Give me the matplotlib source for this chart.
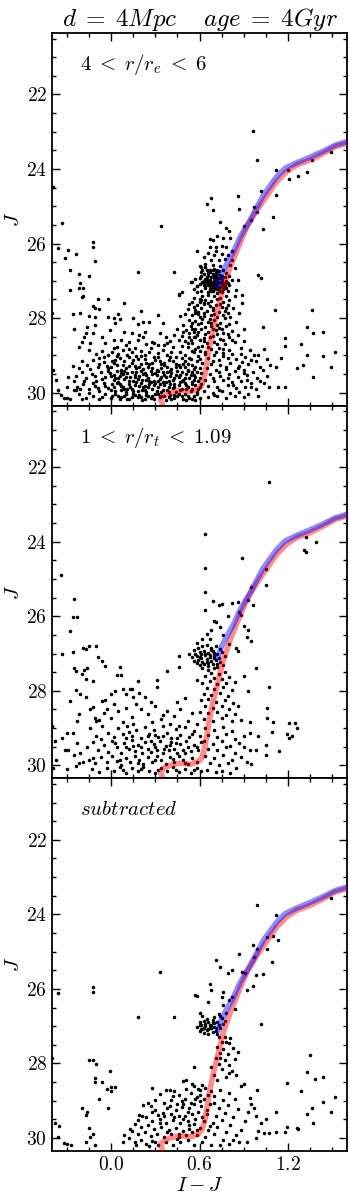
import numpy as np
import matplotlib
matplotlib.use("Agg")
import matplotlib.pyplot as plt
from matplotlib.ticker import MultipleLocator

plt.rcParams['mathtext.fontset'] = 'cm'
plt.rcParams['font.family'] = 'serif'
plt.rcParams['font.serif'] = ['cmr10', 'DejaVu Serif']
plt.rcParams['axes.formatter.use_mathtext'] = True

# isochrone tracks (I-J, J)
rgb_x = [0.38, 0.355, 0.335, 0.36, 0.40, 0.47, 0.54, 0.59, 0.615, 0.635, 0.65, 0.668, 0.694, 0.728, 0.761,
         0.807, 0.863, 0.92, 0.988, 1.067, 1.123, 1.19, 1.259, 1.349, 1.44, 1.519, 1.61]
rgb_y = [30.6, 30.38, 30.18, 30.07, 30.0, 29.94, 29.97, 29.9, 29.8, 29.55, 29.2, 28.75, 28.26, 27.72, 27.18,
         26.64, 26.1, 25.56, 25.11, 24.66, 24.34, 24.07, 23.89, 23.76, 23.58, 23.40, 23.30]
agb_x = [0.725, 0.745, 0.784, 0.829, 0.875, 0.942, 1.033, 1.123, 1.18, 1.26, 1.35, 1.44, 1.52, 1.61]
agb_y = [27.12, 26.85, 26.55, 26.23, 25.83, 25.38, 24.70, 24.21, 23.98, 23.83, 23.68, 23.52, 23.36, 23.25]

panel_labels = [r'$4\;<\;r/r_e\;<\;6$', r'$1\;<\;r/r_t\;<\;1.09$', r'$subtracted$']

# top panel: 4 < r/re < 6
top_sparse = [(0.96,22.99),(0.99,23.75),(1.12,24.02),(1.2,24.03),(1.27,24.18),(1.33,24.09),(1.36,23.77),(1.49,23.54),
    (1.21,24.26),(1.12,24.69),(1.02,24.6),(0.65,24.94),(0.68,24.78),(0.69,25.11),(0.86,24.72),(0.87,25.06),(0.97,25.02),
    (0.99,25.14),(0.95,25.36),(1.1,25.28),(0.34,25.54),(0.74,25.41),(0.78,25.58),(0.8,25.67),(0.9,25.52),(1.03,25.61),
    (-0.39,24.47),(-0.33,25.45),(-0.12,25.95),(-0.36,26.11),(-0.12,26.08),(-0.29,26.17),(-0.31,26.4),(-0.24,26.27),
    (-0.11,26.46),(0.58,26.19),(-0.28,26.72),(-0.22,26.81),(-0.15,26.87),(0.18,26.75),(0.43,26.75),(-0.28,27.24),
    (-0.21,27.05),(-0.22,27.2),(-0.19,27.2),(-0.19,27.41),(-0.2,27.44),(-0.09,27.49),(-0.02,27.49),(0.09,27.6),
    (-0.12,27.67),(-0.11,27.74),(-0.08,27.76),(0.46,27.38),(0.48,27.31),(-0.4,27.85),
    (1.36,27.78),(1.33,28.23),(1.37,28.41),(1.44,28.36),(1.18,28.54),(1.18,28.74),(1.29,28.69),(1.33,28.99),(1.44,29.03),
    (1.52,28.9),(1.26,29.35),(1.3,29.26),(1.37,29.59),(1.49,29.3),(1.12,29.3),
    (-0.39,29.4),(-0.37,29.66),(-0.36,29.93),(-0.29,29.57),(-0.25,29.69),(-0.24,29.93),(-0.23,29.84)]
top_rgb = [(0.72,25.81),(0.69,25.9),(0.67,25.88),(0.76,25.85),(0.81,25.85),(0.71,26.08),(0.75,26.06),(0.78,26.1),
    (0.82,26.21),(0.67,26.1),(0.66,26.26),(0.7,26.3),(0.75,26.28),(0.79,26.3),(0.73,26.44),(0.77,26.42),(0.82,26.44),
    (0.6,26.61),(0.64,26.54),(0.69,26.57),(0.74,26.61),(0.81,26.57),(0.84,26.66),(1.0,26.84),(1.02,26.93),(0.54,27.02),
    (0.46,27.36),(0.68,26.45),(0.63,26.35),(0.71,26.2),(0.61,26.64),(0.6,26.93),(0.61,26.76),
    (0.62,26.72),(0.65,26.7),(0.67,26.76),(0.7,26.68),(0.73,26.74),(0.76,26.7),(0.78,26.78),(0.63,26.82),(0.66,26.86),
    (0.69,26.83),(0.71,26.88),(0.74,26.84),(0.77,26.9),(0.64,26.94),(0.67,26.97),(0.7,26.93),(0.72,26.98),(0.75,26.95),
    (0.78,27.0),(0.62,27.02),(0.65,27.05),(0.68,27.03),(0.71,27.06),(0.73,27.02),(0.76,27.08),(0.79,27.05),(0.63,27.12),
    (0.66,27.1),(0.69,27.14),(0.72,27.11),(0.74,27.16),(0.77,27.13),(0.64,27.2),(0.67,27.22),(0.7,27.19),(0.73,27.24),
    (0.76,27.21),(0.79,27.26),(0.66,27.3),(0.69,27.28),(0.72,27.32),(0.75,27.3),(0.6,27.08),(0.58,27.15),(0.61,27.27),
    (0.68,26.9),(0.7,27.0),(0.66,27.0),(0.72,26.92),(0.74,27.07),(0.67,27.08),(0.7,27.1),(0.71,27.15),(0.68,27.18),
    (0.73,27.2),(0.65,26.98),(0.63,27.07),(0.69,27.05),(0.75,27.0),(0.8,27.12),(0.82,26.98),(0.57,26.95),(0.56,27.22),
    (0.64,26.64),(0.71,26.77),(0.77,27.2),(0.66,26.8),(0.69,26.72),(0.72,26.82),(0.75,26.88),(0.64,27.15),(0.68,27.26),
    (0.74,27.27),(0.78,27.18),(0.61,26.88),(0.8,26.86),
    (0.67,26.72),(0.72,26.72),(0.65,26.9),(0.7,26.84),(0.74,26.93),(0.63,27.0),(0.77,27.05),(0.67,27.14),(0.71,27.22),
    (0.75,27.14),
    (0.86,26.97),(0.85,27.24),(0.84,27.42),(0.89,27.38),(0.89,27.6),(1.11,27.78),(1.03,28.25),
    (0.62,27.4),(0.66,27.38),(0.7,27.42),(0.74,27.45),(0.78,27.4),(0.6,27.5),(0.64,27.52),(0.68,27.55),(0.72,27.5),
    (0.76,27.56),(0.8,27.52),(0.55,27.58),(0.58,27.65),(0.63,27.62),(0.67,27.67),(0.71,27.64),(0.75,27.7),(0.79,27.66),
    (0.83,27.72),(0.52,27.75),(0.57,27.78),(0.61,27.74),(0.65,27.8),(0.69,27.77),(0.73,27.83),(0.77,27.8),(0.5,27.9),
    (0.55,27.92),(0.59,27.88),(0.63,27.95),(0.68,27.91),(0.72,27.97),(0.76,27.93),(0.81,27.98),(0.53,28.04),(0.57,28.08),
    (0.62,28.02),(0.66,28.1),(0.7,28.06),(0.74,28.12),(0.49,28.18),(0.54,28.22),(0.59,28.16),(0.64,28.24),(0.68,28.2),
    (0.73,28.27),(0.78,28.22),(0.51,28.32),(0.56,28.36),(0.61,28.3),(0.66,28.38),(0.71,28.33),(0.76,28.4),(0.82,28.35),
    (0.48,28.47),(0.53,28.5),(0.58,28.45),(0.63,28.53),(0.69,28.48),(0.74,28.55),(0.8,28.5),(0.86,28.46),(0.5,28.62),
    (0.55,28.66),(0.6,28.6),(0.65,28.68),(0.7,28.63),(0.77,28.7),(0.84,28.65),(0.9,28.62),(0.52,28.78),(0.57,28.82),
    (0.62,28.76),(0.68,28.84),(0.73,28.8),(0.8,28.86),(0.88,28.8),(0.94,28.85),(0.56,27.45),(0.53,27.62),(0.47,27.95),
    (0.45,28.3),(0.85,28.1),(0.87,27.85),(0.9,28.3),
    (0.6,27.58),(0.66,27.6),(0.74,27.62),(0.57,27.85),(0.63,27.86),(0.7,27.88),(0.79,27.86),(0.55,28.12),(0.61,28.14),
    (0.68,28.14),(0.72,28.18),(0.8,28.15),(0.53,28.4),(0.59,28.38),(0.64,28.44),(0.72,28.42),(0.79,28.44),(0.54,28.58),
    (0.63,28.62),(0.72,28.7),(0.82,28.58),(0.6,28.88),(0.66,28.78),(0.76,28.84),
    (0.63,27.6),(0.69,27.72),(0.78,27.72),(0.6,27.98),(0.67,28.02),(0.77,28.0),(0.57,28.28),(0.69,28.3),(0.75,28.28),
    (0.56,28.5),(0.67,28.5),(0.76,28.58),(0.64,28.9),(0.71,28.9)]
top_faint = [(0.95,29.12),(1.04,28.83),(1.15,29.08),(1.13,29.84),(1.18,29.84),(1.07,29.84),(1.04,29.75),
    (0.64,28.95),(0.7,28.98),(0.76,28.93),(0.82,28.97),(0.88,28.95),(1.0,28.98),(0.66,29.08),(0.73,29.12),(0.79,29.06),
    (0.85,29.1),(0.91,29.05),(0.98,29.15),(1.06,29.1),(0.68,29.22),(0.74,29.26),(0.81,29.2),(0.87,29.28),(0.93,29.22),
    (1.01,29.3),(1.08,29.25),(0.65,29.35),(0.71,29.4),(0.78,29.36),(0.84,29.42),(0.9,29.38),(0.96,29.45),(1.03,29.4),
    (0.67,29.5),(0.74,29.55),(0.8,29.5),(0.86,29.57),(0.92,29.52),(0.99,29.6),(1.06,29.55),(0.64,29.66),(0.7,29.7),
    (0.76,29.65),(0.82,29.72),(0.88,29.68),(0.95,29.75),(1.01,29.7),(0.66,29.82),(0.72,29.86),(0.79,29.8),(0.85,29.88),
    (0.91,29.84),(0.98,29.9),(0.63,29.95),(0.69,30.0),(0.75,29.96),(0.81,30.02),(0.87,29.98),(0.93,30.05),(0.66,30.12),
    (0.72,30.1),(0.78,30.15),(0.84,30.1),(0.76,29.02),(0.86,29.33),(0.97,29.0),(0.73,29.44),(0.92,29.65),
    (0.69,29.14),(0.78,29.3),(0.89,29.18),(0.69,29.62),(0.79,29.6),(0.9,29.46),(0.73,29.92),(0.83,29.8),(0.95,29.85),
    (0.7,30.06),(0.9,30.12),(1.0,30.08),
    (-0.26,27.88),(-0.21,27.85),(-0.15,27.94),(-0.11,27.96),(-0.02,27.96),(0.02,28.0),(0.03,28.14),(0.05,27.89),
    (0.06,28.03),(0.15,27.99),(0.18,28.16),(0.2,27.8),(0.22,28.1),(0.26,28.1),(0.32,27.92),(0.35,28.14),(-0.25,28.29),
    (-0.17,28.41),(-0.16,28.23),(-0.12,28.41),(-0.11,28.19),(-0.18,28.5),(-0.2,28.63),(-0.22,28.77),(-0.14,28.68),
    (-0.06,28.5),(-0.04,28.66),(-0.01,28.32),(0.02,28.59),(0.04,28.77),(0.09,28.36),(0.12,28.63),(0.14,28.41),
    (0.18,28.59),(0.19,28.45),(0.23,28.36),(0.28,28.63),(0.29,28.68),(0.33,28.41),(0.36,28.72),(0.38,28.66),(0.43,28.45),
    (0.46,28.59),(0.49,28.36),(0.52,28.66),(0.55,28.3),(0.57,28.5),(0.59,28.77),(0.56,27.69),(0.59,27.83),(0.61,27.51),
    (0.58,27.15),(0.6,26.93),(0.55,27.02),(0.58,27.29)]
top_ms = [(-0.26,29.28),(-0.22,29.35),(-0.15,28.85),(-0.1,28.95),(-0.06,28.88),(-0.02,29.0),(0.01,28.9),(0.05,28.97),
    (0.08,28.86),(0.11,28.99),(0.14,28.92),(0.17,29.03),(0.2,28.88),(0.23,28.98),(0.26,28.9),(0.29,29.04),(0.32,28.94),
    (0.35,28.86),(0.38,29.0),(0.41,28.92),(0.44,29.05),(0.47,28.9),(0.5,28.98),(0.53,29.06),(0.56,28.92),(0.59,29.02),
    (0.12,28.82),(0.27,28.8),(0.42,28.78),(-0.08,29.08),
    (-0.2,29.15),(-0.16,29.25),(-0.12,29.12),(-0.09,29.3),(-0.05,29.18),(-0.02,29.35),(0.01,29.14),(0.04,29.26),
    (0.07,29.38),(0.09,29.16),(0.12,29.28),(0.15,29.12),(0.17,29.35),(0.2,29.22),(0.23,29.1),(0.25,29.32),(0.28,29.2),
    (0.31,29.38),(0.33,29.14),(0.36,29.27),(0.39,29.12),(0.41,29.36),(0.44,29.22),(0.47,29.3),(0.5,29.15),(0.52,29.38),
    (0.55,29.25),(0.58,29.14),(0.6,29.33),(0.62,29.2),(0.03,29.12),(0.19,29.3),(0.34,29.35),(0.49,29.24),
    (-0.24,29.55),(-0.2,29.45),(-0.17,29.62),(-0.13,29.5),(-0.1,29.68),(-0.07,29.44),(-0.04,29.58),(-0.01,29.48),
    (0.02,29.66),(0.04,29.42),(0.06,29.55),(0.09,29.64),(0.11,29.46),(0.13,29.58),(0.15,29.69),(0.17,29.44),(0.19,29.55),
    (0.21,29.66),(0.23,29.48),(0.25,29.6),(0.27,29.42),(0.29,29.7),(0.31,29.52),(0.33,29.63),(0.35,29.45),(0.37,29.57),
    (0.39,29.68),(0.41,29.47),(0.43,29.6),(0.45,29.43),(0.47,29.54),(0.49,29.66),(0.51,29.5),(0.53,29.62),(0.55,29.45),
    (0.57,29.57),(0.59,29.69),(0.61,29.48),(0.08,29.5),(0.16,29.52),(0.24,29.54),(0.32,29.41),(0.4,29.56),(0.48,29.44),
    (0.56,29.65),(0.0,29.56),
    (-0.3,29.84),(-0.25,29.93),(-0.19,29.78),(-0.15,29.9),(-0.11,29.82),(-0.08,29.96),(-0.05,29.74),(-0.02,29.88),
    (0.01,29.78),(0.03,29.95),(0.05,29.72),(0.08,29.85),(0.1,29.98),(0.12,29.76),(0.14,29.9),(0.16,29.8),(0.18,29.95),
    (0.2,29.73),(0.22,29.86),(0.24,29.98),(0.26,29.78),(0.28,29.9),(0.3,29.74),(0.32,29.86),(0.34,29.97),(0.36,29.8),
    (0.38,29.92),(0.4,29.76),(0.42,29.88),(0.44,29.98),(0.46,29.79),(0.48,29.9),(0.5,29.74),(0.52,29.85),(0.54,29.96),
    (0.57,29.8),(0.59,29.9),(0.61,29.77),(0.07,29.92),(0.23,29.82),(0.37,29.72),(0.55,29.72),
    (-0.34,30.07),(-0.32,30.14),(-0.3,30.15),(-0.28,30.17),(-0.22,30.05),(-0.17,30.15),(-0.12,30.08),(-0.08,30.18),
    (-0.04,30.05),(0.0,30.14),(0.03,30.04),(0.06,30.18),(0.09,30.08),(0.12,30.16),(0.15,30.03),(0.18,30.12),(0.21,30.2),
    (0.24,30.06),(0.27,30.15),(0.3,30.04),(0.33,30.12),(0.37,30.2),(0.4,30.06),(0.43,30.15),(0.46,30.04),(0.49,30.18),
    (0.52,30.08),(0.55,30.16),(0.58,30.05),(0.6,30.14),
    (0.02,29.2),(0.06,29.08),(0.1,29.33),(0.14,29.2),(0.18,29.1),(0.22,29.36),(0.26,29.24),(0.3,29.12),(0.34,29.22),
    (0.38,29.32),(0.42,29.16),(0.46,29.26),(0.5,29.32),(0.54,29.1),(0.57,29.3),
    (0.03,29.6),(0.07,29.47),(0.1,29.58),(0.14,29.44),(0.18,29.64),(0.22,29.5),(0.26,29.68),(0.3,29.46),(0.34,29.58),
    (0.38,29.44),(0.42,29.66),(0.46,29.58),(0.5,29.62),(0.54,29.52),(0.58,29.44),
    (0.02,29.84),(0.06,29.78),(0.09,29.9),(0.13,29.84),(0.17,29.72),(0.21,29.93),(0.25,29.86),(0.29,29.8),(0.33,29.78),
    (0.35,29.92),(0.39,29.84),(0.43,29.76),(0.47,29.94),(0.51,29.8),(0.55,29.9),(0.6,29.84),
    (0.05,30.1),(0.1,30.04),(0.14,30.12),(0.19,30.06),(0.23,30.18),(0.28,30.08),(0.32,30.03),(0.36,30.1),(0.41,30.18),
    (0.45,30.1),(0.5,30.03),(0.53,30.14),(0.57,30.2),
    (-0.14,29.36),(-0.11,29.56),(-0.08,29.22),(-0.06,29.64),(-0.03,29.28),(-0.12,29.75),(-0.09,29.88),(-0.18,29.7),
    (-0.21,29.9),(-0.06,30.12),(-0.15,30.02),(-0.2,30.18),
    (0.02,28.8),(0.1,28.72),(0.16,28.8),(0.24,28.7),(0.32,28.72),(0.4,28.62),(0.48,28.76),(0.55,28.88),(0.07,28.6),
    (0.22,28.52),(0.37,28.5),
    (-0.05,29.05),(0.0,29.3),(0.04,29.02),(0.08,29.25),(0.12,29.05),(0.16,29.28),(0.2,29.02),(0.24,29.2),(0.28,29.34),
    (0.32,29.05),(0.36,29.2),(0.4,29.04),(0.44,29.32),(0.48,29.08),(0.52,29.22),(0.56,29.36),(0.6,29.1),
    (-0.02,29.43),(0.02,29.52),(0.05,29.62),(0.09,29.43),(0.12,29.68),(0.16,29.58),(0.2,29.42),(0.24,29.66),(0.28,29.5),
    (0.32,29.68),(0.36,29.52),(0.4,29.42),(0.44,29.52),(0.48,29.68),(0.52,29.42),(0.56,29.52),(0.6,29.6),
    (-0.04,29.82),(0.0,29.92),(0.04,29.74),(0.07,29.82),(0.11,29.9),(0.15,29.96),(0.19,29.82),(0.23,29.92),(0.27,29.72),
    (0.31,29.95),(0.35,29.72),(0.39,29.98),(0.43,29.84),(0.47,29.72),(0.51,29.9),(0.55,29.78),(0.58,29.98),
    (0.01,30.08),(0.07,30.12),(0.11,30.18),(0.16,30.06),(0.2,30.12),(0.25,30.1),(0.29,30.18),(0.34,30.08),(0.39,30.12),
    (0.43,30.06),(0.48,30.1),(0.51,30.2),(0.56,30.08)]

# middle panel: 1 < r/rt < 1.09
mid_sparse = [(-0.34,24.89),(-0.25,25.53),(-0.26,26.03),(-0.23,26.03),(-0.28,26.4),(-0.33,27.02),(-0.26,26.97),
    (-0.19,26.84),(-0.17,26.88),(-0.15,26.81),(-0.1,26.79),(-0.09,27.1),(-0.06,27.19),(-0.04,27.33),(-0.24,27.46),
    (-0.25,27.4),(-0.2,27.55),(-0.18,27.45),(-0.16,27.39),(-0.17,27.69),(-0.12,27.73),(0.06,27.37),(0.04,27.57),
    (0.07,27.57),(0.18,27.75),(0.14,27.96),(0.31,27.72),(0.31,27.9),(0.38,27.46),(0.46,27.37),(0.46,27.06),(-0.28,28.27),
    (-0.24,27.99),(-0.21,28.09),(-0.17,28.18),(-0.14,28.5),(-0.12,28.43),(-0.23,28.81),(-0.22,28.63),(-0.11,28.72),
    (-0.1,28.81),(-0.08,28.79),(-0.06,28.27),(-0.04,28.25),(-0.03,28.5),(0.02,28.36),(0.0,28.09),(0.03,28.0),(0.08,27.96),
    (0.1,28.09),(0.13,27.96),(0.15,28.18),(0.19,28.05),(0.23,28.18),(-0.4,28.95),(-0.38,29.35),(-0.3,29.13),(-0.33,29.28),
    (-0.31,29.58),(-0.29,29.58),(-0.37,29.85),(-0.39,30.07),(-0.26,29.13),(-0.23,29.4),(-0.21,29.67),(-0.25,29.71),
    (-0.19,29.9),
    (1.07,22.41),(0.64,23.78),(1.32,23.87),(1.31,24.23),(1.32,24.27),(1.39,24.0),(0.89,24.45),(0.64,24.7),(1.05,24.72),
    (1.05,25.15),(0.95,25.22),(0.64,25.35),(0.69,25.58),(0.64,25.83),(0.73,25.71),(0.75,25.67),(0.82,25.65),(0.86,25.62),
    (0.93,25.56),(0.96,25.71),(0.71,26.16),(0.7,26.13),(0.79,26.0),(0.87,25.89),(0.88,25.98),(0.9,26.25),(0.93,26.37),
    (0.92,26.57),(0.95,26.67),(0.65,26.48),(0.67,26.61),(0.68,26.37),(0.98,27.39),(1.07,27.89),(0.85,26.84),(0.86,26.93),
    (0.8,26.75),(0.74,26.3),(0.76,26.5),(0.62,26.6),(0.58,26.73)]
mid_rgb = [(0.56,26.9),(0.59,26.85),(0.62,26.8),(0.65,26.78),(0.68,26.84),(0.71,26.8),(0.74,26.88),(0.57,27.0),
    (0.6,26.96),(0.63,26.93),(0.66,26.98),(0.69,26.94),(0.72,27.0),(0.75,26.96),(0.55,27.1),(0.58,27.06),(0.61,27.12),
    (0.64,27.05),(0.67,27.1),(0.7,27.06),(0.73,27.12),(0.77,27.08),(0.56,27.2),(0.59,27.17),(0.62,27.22),(0.65,27.16),
    (0.68,27.2),(0.71,27.18),(0.74,27.24),(0.6,27.3),(0.63,27.27),(0.66,27.33),(0.69,27.28),(0.72,27.35),(0.76,27.3),
    (0.62,27.4),(0.66,27.44),(0.7,27.4),(0.53,27.02),(0.64,27.0),(0.67,27.03),(0.7,27.13),(0.61,27.02),(0.68,26.9),
    (0.66,27.25),(0.6,27.1),(0.7,26.98),(0.65,27.22),(0.72,27.27),(0.58,27.25),
    (0.68,27.52),(0.73,27.55),(0.77,27.5),(0.64,27.6),(0.7,27.65),(0.75,27.68),(0.8,27.62),(0.62,27.78),(0.67,27.75),
    (0.72,27.82),(0.78,27.8),(0.84,27.76),(0.65,27.92),(0.7,27.96),(0.76,27.9),(0.82,27.98),(0.63,28.08),(0.68,28.12),
    (0.74,28.06),(0.79,28.15),(0.61,28.25),(0.66,28.22),(0.71,28.3),(0.77,28.26),(0.83,28.32),(0.64,28.4),(0.69,28.45),
    (0.75,28.42),(0.8,28.5),(0.6,28.56),(0.66,28.6),(0.72,28.58),(0.78,28.65),(0.84,28.62),(0.63,28.75),(0.69,28.8),
    (0.75,28.74),(0.82,28.82),(0.88,28.78),(0.58,28.9),(0.9,27.6),(0.93,28.0),(0.58,27.7),(0.86,28.4)]
mid_ms = [(1.06,28.45),(1.06,28.72),(1.1,28.83),(0.94,28.83),(0.94,29.13),(1.0,29.22),(0.9,29.22),(0.9,29.51),
    (0.94,29.58),(0.98,29.6),(1.05,29.46),(1.05,29.71),(1.09,29.11),(1.14,29.62),(1.21,28.86),(1.25,28.86),(1.26,28.99),
    (1.19,29.15),(1.21,29.26),(1.23,29.22),(0.95,29.96),(0.85,30.07),(0.81,30.2),(0.75,30.16),
    (0.64,29.0),(0.7,29.05),(0.76,28.98),(0.82,29.08),(0.66,29.18),(0.72,29.24),(0.78,29.16),(0.84,29.3),(0.63,29.36),
    (0.69,29.42),(0.75,29.35),(0.81,29.48),(0.87,29.4),(0.66,29.56),(0.72,29.6),(0.78,29.52),(0.84,29.66),(0.64,29.74),
    (0.7,29.8),(0.76,29.72),(0.82,29.86),(0.88,29.78),(0.67,29.94),(0.73,30.0),(0.79,29.95),(0.65,30.12),(0.71,30.18),
    (0.92,29.9),
    (0.05,28.55),(0.1,28.45),(0.14,28.7),(0.2,28.5),(0.25,28.62),(0.3,28.42),(0.34,28.75),(0.38,28.55),(0.43,28.68),
    (0.47,28.5),(0.52,28.8),(0.55,28.6),(0.0,28.72),(-0.05,28.6),(0.08,28.85),(0.28,28.85),(0.4,28.88),(0.17,28.35),
    (0.27,28.3),(0.45,28.3),(0.5,28.2),
    (-0.14,29.0),(-0.1,29.2),(-0.06,28.95),(-0.02,29.12),(0.02,29.25),(0.05,29.0),(0.08,29.15),(0.11,28.95),(0.14,29.22),
    (0.17,29.05),(0.2,29.28),(0.23,28.98),(0.26,29.15),(0.29,29.05),(0.32,29.25),(0.35,28.95),(0.38,29.12),(0.41,29.28),
    (0.44,29.02),(0.47,29.18),(0.5,28.98),(0.53,29.25),(0.56,29.08),(0.6,29.2),(0.12,29.1),(0.3,29.18),
    (-0.16,29.5),(-0.12,29.38),(-0.09,29.6),(-0.05,29.45),(-0.02,29.65),(0.01,29.35),(0.04,29.52),(0.07,29.68),
    (0.09,29.4),(0.12,29.56),(0.14,29.32),(0.16,29.62),(0.18,29.45),(0.21,29.68),(0.23,29.38),(0.25,29.55),(0.27,29.65),
    (0.29,29.42),(0.31,29.58),(0.33,29.35),(0.35,29.68),(0.37,29.48),(0.39,29.6),(0.41,29.38),(0.43,29.55),(0.45,29.66),
    (0.47,29.44),(0.49,29.58),(0.51,29.34),(0.54,29.62),(0.56,29.46),(0.59,29.58),(0.61,29.38),(0.1,29.5),(0.2,29.52),
    (0.3,29.5),(0.4,29.45),(0.52,29.5),
    (-0.15,29.85),(-0.11,29.95),(-0.07,29.78),(-0.03,29.9),(0.01,29.75),(0.04,29.88),(0.07,29.98),(0.1,29.8),(0.13,29.92),
    (0.16,29.74),(0.19,29.86),(0.22,29.97),(0.25,29.78),(0.28,29.9),(0.31,29.75),(0.34,29.85),(0.37,29.96),(0.4,29.78),
    (0.43,29.9),(0.46,29.74),(0.49,29.85),(0.52,29.96),(0.55,29.8),(0.58,29.9),
    (-0.13,30.1),(-0.08,30.18),(-0.03,30.06),(0.02,30.15),(0.06,30.05),(0.1,30.2),(0.14,30.08),(0.18,30.16),(0.22,30.04),
    (0.26,30.14),(0.3,30.2),(0.34,30.06),(0.38,30.15),(0.42,30.05),(0.46,30.18),(0.5,30.1),(0.54,30.2),(0.58,30.06),
    (0.61,30.16),(-0.3,30.1),(-0.22,29.95),(-0.24,30.02),
    (0.03,29.4),(0.15,29.48),(0.27,29.35),(0.36,29.55),(0.44,29.4),(0.5,29.68),(0.58,29.5),(0.06,29.85),(0.18,29.95),
    (0.3,29.85),(0.42,29.82),(0.5,29.95),(0.08,30.12),(0.2,30.1),(0.32,30.12),(0.44,30.12),(0.56,30.12),(0.1,29.28),
    (0.25,29.22),(0.35,29.2),(0.45,29.28),(0.55,29.15),(-0.07,29.3),(-0.12,29.8),(0.15,28.9),(0.35,28.65),(0.46,28.95)]

# bottom panel: subtracted
sub_sparse = [(0.33,25.54),(-0.36,26.1),(-0.12,25.94),(-0.12,26.08),(0.58,26.18),(0.18,26.75),(0.43,26.75),(0.6,26.64),
    (0.6,26.96),(0.61,27.07),(-0.4,27.85),(-0.15,27.92),(-0.12,27.92),(-0.1,28.01),(-0.11,28.39),(-0.11,28.51),
    (-0.06,28.51),(-0.01,28.19),(0.0,28.63),(0.03,28.63),(-0.03,28.68),(0.0,28.75),(-0.08,28.95),(-0.02,29.2),(-0.2,29.2),
    (-0.16,29.29),(-0.17,29.39),(-0.38,29.6),(-0.35,29.69),(-0.15,29.72),(-0.12,29.89),(-0.14,29.96),(-0.17,30.12),
    (-0.11,30.18),(-0.36,29.98),(-0.32,30.14),(-0.3,30.16),(-0.27,30.18),(0.28,28.66),(0.56,28.1),(0.09,29.91),(0.08,30.12),
    (0.99,23.75),(1.12,24.02),(1.49,23.55),(1.06,24.61),(1.1,24.58),(1.13,24.7),(1.06,24.92),(0.96,24.83),(0.99,24.94),
    (0.97,25.14),(0.87,25.06),(1.09,25.27),(0.71,25.23),(0.74,25.41),(0.82,25.48),(0.79,25.58),(0.89,25.54),(0.91,25.58),
    (0.98,25.63),(1.03,25.61),(0.96,25.91),(0.92,26.03),(0.67,25.88),(0.68,26.03),(0.57,26.17),(0.76,26.08),(0.66,26.35),
    (0.75,26.22),(0.82,26.22),(0.84,26.55),(1.02,26.94),(0.76,26.42),(0.8,26.3),(0.78,26.65),
    (1.35,27.78),(1.33,28.24),(1.38,28.42),(1.44,28.37),(1.19,28.52),(1.29,28.73),(1.44,29.04),(1.52,28.9),(1.36,29.2),
    (1.33,29.36),(1.49,29.31),(1.37,29.6),(1.19,29.71),(1.18,29.85),(1.26,29.73),(1.27,29.77),(1.12,29.85),(1.07,29.87),
    (1.04,29.87),(0.99,28.7),(1.12,29.29)]
sub_rgb = [(0.6,26.88),(0.63,26.85),(0.66,26.9),(0.69,26.84),(0.72,26.9),(0.75,26.78),(0.61,26.98),(0.64,27.0),
    (0.67,26.96),(0.7,27.02),(0.73,26.97),(0.62,27.08),(0.65,27.1),(0.68,27.06),(0.71,27.12),(0.74,27.05),(0.63,27.18),
    (0.66,27.2),(0.69,27.16),(0.72,27.22),(0.6,27.12),(0.65,26.8),(0.7,26.74),(0.77,26.85),(0.76,26.95),(0.67,27.04),
    (0.7,26.92),(0.64,26.93),(0.58,27.02),(0.62,26.72),(0.73,26.66),(0.68,26.98),(0.71,27.06),(0.66,27.08),(0.69,26.9),
    (0.63,27.04),(0.74,26.72),
    (0.73,27.3),(0.77,27.28),(0.81,27.32),(0.75,27.42),(0.8,27.45),(0.72,27.55),(0.76,27.6),(0.83,27.58),(0.74,27.72),
    (0.79,27.75),(0.71,27.85),(0.77,27.9),(0.84,27.88),(0.73,28.02),(0.8,28.05),(0.75,28.15),(0.82,28.2),(0.7,28.3),
    (0.78,28.35),(0.85,28.3),(0.72,28.45),(0.68,28.1),(0.86,27.7),(0.78,27.42),(0.74,27.86),(0.8,28.25)]
sub_ms = [(0.88,28.61),(0.9,28.56),(0.94,28.93),(0.95,29.1),(0.97,29.2),(0.93,29.3),(0.91,29.55),(0.88,29.78),
    (0.85,29.92),(0.83,30.05),(0.92,30.1),(0.98,29.4),(1.02,29.6),(1.0,29.8),(1.05,29.5),(0.98,30.0),
    (0.56,28.6),(0.6,28.7),(0.64,28.65),(0.68,28.75),(0.74,28.7),(0.8,28.8),(0.58,28.9),(0.63,28.95),(0.7,28.88),
    (0.76,28.98),(0.84,28.95),(0.56,29.1),(0.61,29.15),(0.67,29.08),(0.73,29.2),(0.79,29.12),(0.86,29.22),(0.59,29.3),
    (0.65,29.35),(0.71,29.4),(0.77,29.32),(0.83,29.45),(0.57,29.5),(0.63,29.55),(0.69,29.6),(0.75,29.52),(0.81,29.65),
    (0.6,29.72),(0.66,29.78),(0.72,29.7),(0.78,29.85),(0.58,29.92),(0.64,29.98),(0.7,29.9),(0.76,30.05),(0.62,30.12),
    (0.68,30.18),(0.74,30.2),(0.8,30.15),(0.87,30.12),
    (0.33,28.82),(0.37,28.7),(0.4,28.72),(0.43,28.75),(0.42,28.88),(0.46,28.85),(0.49,28.48),(0.51,28.45),(0.51,28.68),
    (0.55,28.55),(0.54,28.78),(0.59,28.68),(0.6,28.85),(0.22,29.11),(0.19,29.38),(0.21,29.42),(0.18,29.51),(0.28,29.29),
    (0.3,29.25),(0.32,29.38),(0.35,29.33),(0.38,29.2),
    (0.25,29.05),(0.3,28.98),(0.36,29.05),(0.41,28.98),(0.45,29.08),(0.5,28.95),(0.54,29.05),(0.27,29.15),(0.4,29.15),
    (0.44,29.25),(0.48,29.18),(0.52,29.3),(0.41,29.35),(0.46,29.42),(0.5,29.4),(0.55,29.35),(0.24,29.45),(0.28,29.55),
    (0.33,29.5),(0.37,29.6),(0.42,29.52),(0.47,29.6),(0.52,29.55),(0.56,29.62),(0.16,29.62),(0.2,29.7),(0.25,29.65),
    (0.29,29.75),(0.34,29.7),(0.39,29.78),(0.44,29.72),(0.49,29.8),(0.53,29.75),(0.14,29.82),(0.18,29.9),(0.23,29.85),
    (0.27,29.95),(0.31,29.88),(0.36,29.96),(0.41,29.9),(0.46,29.98),(0.51,29.92),(0.55,29.85),(0.12,30.0),(0.16,30.1),
    (0.2,30.05),(0.24,30.15),(0.28,30.08),(0.32,30.18),(0.37,30.1),(0.42,30.2),(0.47,30.12),(0.52,30.05),(0.56,30.18),
    (0.13,29.75),(0.17,30.18),(0.3,30.12),(0.45,30.02),(0.26,30.22),(0.57,28.95),(0.48,29.02),
    (0.43,29.45),(0.49,29.5),(0.53,29.65),(0.58,29.78),(0.46,29.88),(0.38,29.85),(0.33,29.6),(0.36,29.42),(0.49,29.1),
    (0.53,29.2),(0.6,29.02),(0.65,29.25),(0.62,29.45),(0.67,29.68),(0.7,29.05),(0.66,28.85),(0.62,28.58)]

panels = [top_sparse + top_rgb + top_faint + top_ms,
          mid_sparse + mid_rgb + mid_ms,
          sub_sparse + sub_rgb + sub_ms]

fig, axes = plt.subplots(3, 1, sharex=True, figsize=(3.5, 12), dpi=100)
fig.subplots_adjust(left=0.1486, right=0.9914, top=0.9725, bottom=0.0408, hspace=0)

for ax, pts, lab in zip(axes, panels, panel_labels):
    p = np.array(pts)
    ax.scatter(p[:, 0], p[:, 1], s=6.5, c='k', marker='o', linewidths=0, zorder=2)
    ax.plot(rgb_x, rgb_y, color='red', lw=4, alpha=0.45, solid_capstyle='round', zorder=3)
    ax.plot(agb_x, agb_y, color='blue', lw=4, alpha=0.45, solid_capstyle='round', zorder=4)
    ax.set_xlim(-0.4, 1.6)
    ax.set_ylim(30.35, 20.35)
    ax.xaxis.set_major_locator(MultipleLocator(0.6))
    ax.xaxis.set_minor_locator(MultipleLocator(0.15))
    ax.yaxis.set_major_locator(MultipleLocator(2))
    ax.yaxis.set_minor_locator(MultipleLocator(0.5))
    ax.tick_params(which='both', direction='in', top=True, right=True, labelsize=14, width=1)
    ax.tick_params(which='major', length=6)
    ax.tick_params(which='minor', length=3)
    for s in ax.spines.values():
        s.set_linewidth(1.3)
    ax.set_ylabel(r'$J$', fontsize=15, labelpad=2)
    ax.text(0.095, 0.915, lab, transform=ax.transAxes, fontsize=15, ha='left', va='center')

axes[0].set_title(r'$d\;=\;4Mpc\quad\; age\;=\;4Gyr$', fontsize=18, pad=4)
axes[2].set_xlabel(r'$I-J$', fontsize=15, labelpad=2)

fig.savefig('out.png', dpi=100)
